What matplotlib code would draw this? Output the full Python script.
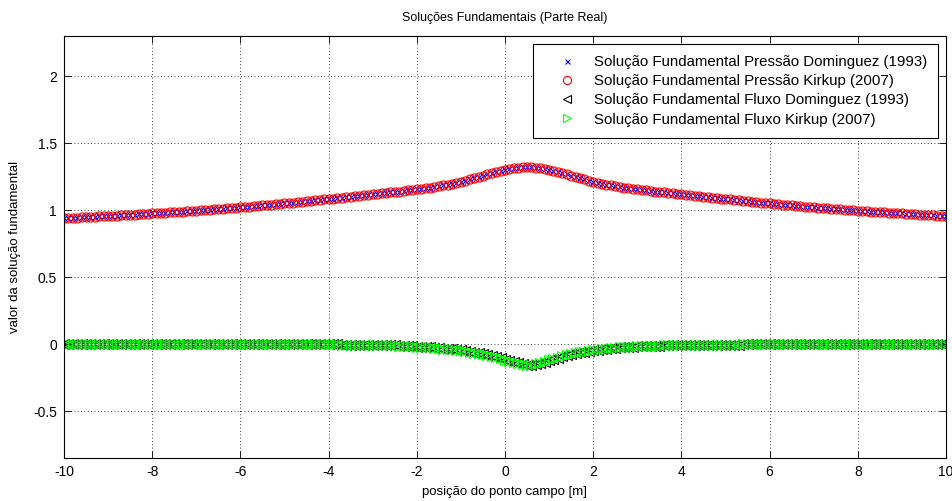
import numpy as np
import matplotlib
matplotlib.use('Agg')
import matplotlib.pyplot as plt

plt.rcParams['font.family'] = ['Liberation Sans', 'DejaVu Sans']
plt.rcParams['axes.unicode_minus'] = False

# field point positions, step 0.1 m
x_pos = np.round(np.linspace(-10, 10, 201), 1)

# real part of pressure fundamental solution
pressao = [
    0.940, 0.942, 0.943, 0.945, 0.946, 0.948, 0.950, 0.951, 0.953, 0.954,
    0.956, 0.958, 0.960, 0.961, 0.963, 0.965, 0.967, 0.969, 0.971, 0.973,
    0.975, 0.977, 0.979, 0.981, 0.983, 0.985, 0.987, 0.989, 0.992, 0.994,
    0.996, 0.998, 1.001, 1.003, 1.006, 1.008, 1.011, 1.013, 1.016, 1.018,
    1.021, 1.024, 1.027, 1.029, 1.032, 1.035, 1.038, 1.041, 1.044, 1.047,
    1.050, 1.053, 1.056, 1.060, 1.063, 1.066, 1.069, 1.073, 1.076, 1.080,
    1.083, 1.086, 1.090, 1.093, 1.097, 1.100, 1.104, 1.107, 1.111, 1.114,
    1.118, 1.121, 1.125, 1.128, 1.132, 1.135, 1.139, 1.143, 1.147, 1.151,
    1.155, 1.160, 1.164, 1.169, 1.173, 1.178, 1.184, 1.190, 1.197, 1.204,
    1.212, 1.221, 1.230, 1.240, 1.249, 1.258, 1.268, 1.277, 1.286, 1.294,
    1.300, 1.307, 1.313, 1.318, 1.321, 1.322, 1.321, 1.318, 1.313, 1.307,
    1.300, 1.294, 1.286, 1.277, 1.268, 1.258, 1.249, 1.240, 1.230, 1.221,
    1.212, 1.204, 1.197, 1.190, 1.184, 1.178, 1.173, 1.169, 1.164, 1.160,
    1.155, 1.151, 1.147, 1.143, 1.139, 1.135, 1.132, 1.128, 1.125, 1.121,
    1.118, 1.114, 1.111, 1.107, 1.104, 1.100, 1.097, 1.093, 1.090, 1.086,
    1.083, 1.080, 1.076, 1.073, 1.069, 1.066, 1.063, 1.060, 1.056, 1.053,
    1.050, 1.047, 1.044, 1.041, 1.038, 1.035, 1.032, 1.029, 1.027, 1.024,
    1.021, 1.018, 1.016, 1.013, 1.011, 1.008, 1.006, 1.003, 1.001, 0.998,
    0.996, 0.994, 0.992, 0.989, 0.987, 0.985, 0.983, 0.981, 0.979, 0.977,
    0.975, 0.973, 0.971, 0.969, 0.967, 0.965, 0.963, 0.961, 0.960, 0.958,
    0.956,
]

# real part of flux fundamental solution
fluxo = [
    0.000, 0.000, 0.000, 0.000, 0.000, 0.000, 0.000, 0.000, 0.000, 0.000,
    0.000, 0.000, 0.000, 0.000, 0.000, 0.000, 0.000, 0.000, 0.000, 0.000,
    0.000, 0.000, 0.000, 0.000, 0.000, 0.000, 0.000, 0.000, 0.000, 0.000,
    0.000, 0.000, 0.000, 0.000, 0.000, 0.000, 0.000, 0.000, 0.000, 0.000,
    0.000, 0.000, 0.000, 0.000, 0.000, 0.000, 0.000, 0.000, 0.000, 0.000,
    0.000, 0.000, 0.000, 0.000, 0.000, -0.001, -0.001, -0.001, -0.001, -0.002,
    -0.002, -0.002, -0.002, -0.003, -0.003, -0.003, -0.003, -0.004, -0.004, -0.004,
    -0.005, -0.006, -0.007, -0.008, -0.009, -0.010, -0.011, -0.013, -0.014, -0.016,
    -0.018, -0.020, -0.022, -0.025, -0.027, -0.030, -0.033, -0.036, -0.040, -0.043,
    -0.047, -0.052, -0.057, -0.063, -0.069, -0.075, -0.082, -0.089, -0.097, -0.106,
    -0.115, -0.125, -0.134, -0.143, -0.150, -0.155, -0.153, -0.148, -0.140, -0.130,
    -0.120, -0.110, -0.101, -0.092, -0.083, -0.075, -0.068, -0.062, -0.056, -0.050,
    -0.045, -0.041, -0.037, -0.033, -0.030, -0.027, -0.025, -0.022, -0.020, -0.018,
    -0.016, -0.015, -0.014, -0.013, -0.012, -0.011, -0.010, -0.009, -0.009, -0.008,
    -0.007, -0.007, -0.006, -0.006, -0.005, -0.005, -0.005, -0.004, -0.004, -0.004,
    -0.003, -0.003, -0.003, -0.003, -0.002, -0.002, -0.002, -0.002, -0.002, -0.001,
    -0.001, 0.000, 0.000, 0.000, 0.000, 0.000, 0.000, 0.000, 0.000, 0.000,
    0.000, 0.000, 0.000, 0.000, 0.000, 0.000, 0.000, 0.000, 0.000, 0.000,
    0.000, 0.000, 0.000, 0.000, 0.000, 0.000, 0.000, 0.000, 0.000, 0.000,
    0.000, 0.000, 0.000, 0.000, 0.000, 0.000, 0.000, 0.000, 0.000, 0.000,
    0.000,
]

labels = [
    'Solução Fundamental Pressão Dominguez (1993)',
    'Solução Fundamental Pressão Kirkup (2007)',
    'Solução Fundamental Fluxo Dominguez (1993)',
    'Solução Fundamental Fluxo Kirkup (2007)',
]

fig = plt.figure(figsize=(9.52, 5.01), dpi=100)
ax = fig.add_axes([0.0672, 0.0858, 0.9265, 0.8424])

ax.plot(x_pos, pressao, 'x', color='#0000ff', ms=4, mew=0.8, label=labels[0])
ax.plot(x_pos, pressao, 'o', color='#ff0000', mfc='none', ms=6.5, mew=0.8, label=labels[1])
ax.plot(x_pos, fluxo, '<', color='black', mfc='none', ms=6.5, mew=0.8, label=labels[2])
ax.plot(x_pos, fluxo, '>', color='#00ff00', mfc='none', ms=6.5, mew=0.8, label=labels[3])

ax.set_xlim(-10, 10)
ax.set_ylim(-0.85, 2.3)
ax.set_xticks(np.arange(-10, 11, 2))
ax.set_yticks([-0.5, 0, 0.5, 1, 1.5, 2])
ax.set_yticklabels(['-0.5', '0', '0.5', '1', '1.5', '2'])
ax.tick_params(direction='in', top=True, right=True, labelsize=10, length=5, width=0.6, pad=5)
ax.grid(True, linestyle=(0, (1, 3)), color='black', linewidth=0.6)
for s in ax.spines.values():
    s.set_linewidth(0.8)

ax.set_title('Soluções Fundamentais (Parte Real)', fontsize=9, pad=11)
ax.set_xlabel('posição do ponto campo [m]', fontsize=9.5, labelpad=5)
ax.set_ylabel('valor da solução fundamental', fontsize=9.5, labelpad=9)

leg = ax.legend(loc='upper right', fontsize=10.8, fancybox=False, framealpha=1,
                edgecolor='black', bbox_to_anchor=(0.991, 0.981), borderaxespad=0,
                handletextpad=0.3, handlelength=3.0, labelspacing=0.34, borderpad=0.75,
                markerscale=0.9)
leg.get_frame().set_linewidth(0.8)

fig.savefig('out.png', dpi=100)
